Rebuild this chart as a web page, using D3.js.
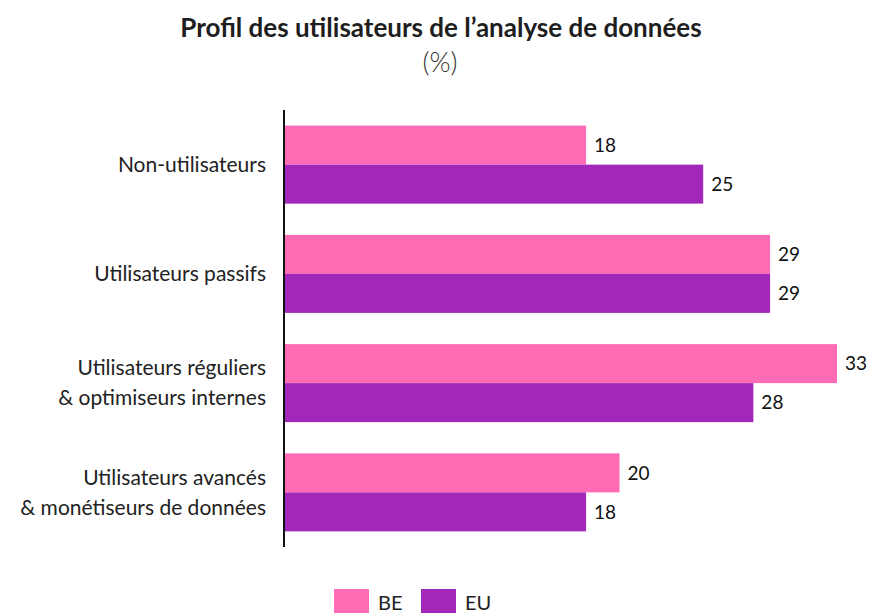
<!DOCTYPE html>
<html>
<head>
<meta charset="utf-8">
<script src="https://cdn.jsdelivr.net/npm/d3@7"></script>
<style>
    body { margin: 0; background: #fff; }
    svg { font-family: Lato, "Noto Sans", sans-serif; }
</style>
</head>
<body>
<svg id="chart" width="869" height="613"></svg>
<script>
// Data
const categories = [
    ["Non-utilisateurs"],
    ["Utilisateurs passifs"],
    ["Utilisateurs réguliers", "& optimiseurs internes"],
    ["Utilisateurs avancés", "& monétiseurs de données"]
];
const seriesNames = ["BE", "EU"];
const beValues = [18, 29, 33, 20];
const euValues = [25, 29, 28, 18];
const colors = ["#ff6bb5", "#a128b8"];

const width = 869, height = 613;
const margin = {top: 110, right: 32, bottom: 66, left: 285};

const svg = d3.select("#chart");

const dataset = categories.map((c, i) => ({
    key: c.join(" "),
    lines: c,
    values: [beValues[i], euValues[i]]
}));

// Scales
const y = d3.scaleBand()
    .domain(dataset.map(d => d.key))
    .range([margin.top, height - margin.bottom])
    .paddingInner(0.286)
    .paddingOuter(0.143);

const ySub = d3.scaleBand()
    .domain(seriesNames)
    .range([0, y.bandwidth()]);

const x = d3.scaleLinear()
    .domain([0, 33])
    .range([margin.left, width - margin.right]);

// Title
svg.append("text")
    .attr("x", 441).attr("y", 37)
    .attr("text-anchor", "middle")
    .attr("font-size", 26).attr("font-weight", 700)
    .attr("fill", "#1e1e1e")
    .text("Profil des utilisateurs de l’analyse de données");

svg.append("text")
    .attr("x", 440).attr("y", 72)
    .attr("text-anchor", "middle")
    .attr("font-size", 27).attr("font-weight", 300)
    .attr("fill", "#333")
    .text("(%)");

// Bars
const groups = svg.append("g")
    .selectAll("g")
    .data(dataset)
    .join("g")
    .attr("transform", d => `translate(0,${y(d.key)})`);

groups.selectAll("rect")
    .data(d => d.values.map((v, i) => ({series: seriesNames[i], value: v, i})))
    .join("rect")
    .attr("x", x(0))
    .attr("y", d => ySub(d.series))
    .attr("width", d => x(d.value) - x(0))
    .attr("height", ySub.bandwidth())
    .attr("fill", d => colors[d.i]);

groups.selectAll("text.val")
    .data(d => d.values.map((v, i) => ({series: seriesNames[i], value: v})))
    .join("text")
    .attr("class", "val")
    .attr("x", d => x(d.value) + 8)
    .attr("y", d => ySub(d.series) + ySub.bandwidth() / 2)
    .attr("dy", "0.35em")
    .attr("font-size", 19)
    .attr("fill", "#111")
    .text(d => d.value);

// Category labels
const yAxis = svg.append("g")
    .attr("transform", `translate(${margin.left - 1},0)`)
    .call(d3.axisLeft(y).tickSize(0).tickFormat(""));
yAxis.select(".domain")
    .attr("d", `M0,${margin.top}V${height - margin.bottom}`)
    .attr("stroke", "#111")
    .attr("stroke-width", 2);

svg.append("g")
    .selectAll("text")
    .data(dataset)
    .join("text")
    .attr("x", 266)
    .attr("y", d => y(d.key) + y.bandwidth() / 2 - (d.lines.length - 1) * 15)
    .attr("text-anchor", "end")
    .attr("font-size", 21)
    .attr("fill", "#222")
    .selectAll("tspan")
    .data(d => d.lines)
    .join("tspan")
    .attr("x", 266)
    .attr("dy", (d, i) => i === 0 ? "0.35em" : 30)
    .text(d => d);

// Legend
const legend = svg.append("g")
    .selectAll("g")
    .data(seriesNames)
    .join("g")
    .attr("transform", (d, i) => `translate(${334 + i * 87},589)`);

legend.append("rect")
    .attr("width", 35).attr("height", 26)
    .attr("fill", (d, i) => colors[i]);

legend.append("text")
    .attr("x", 44).attr("y", 14)
    .attr("dy", "0.35em")
    .attr("font-size", 20)
    .attr("fill", "#222")
    .text(d => d);
</script>
</body>
</html>
